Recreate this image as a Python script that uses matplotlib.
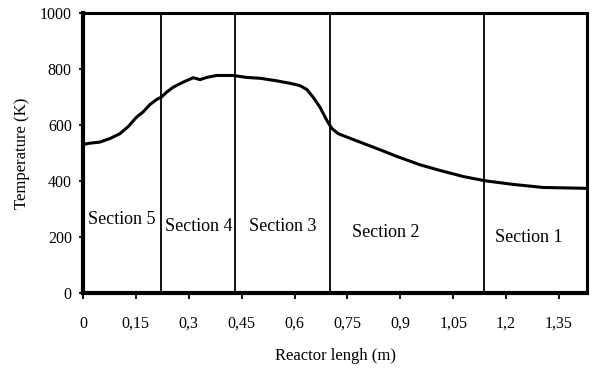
import matplotlib.pyplot as plt

plt.rcParams['font.family'] = ['Liberation Serif', 'DejaVu Serif']

# temperature profile along the reactor
length = [0, 0.019, 0.048, 0.077, 0.105, 0.129, 0.152, 0.171, 0.190, 0.209,
          0.223, 0.237, 0.256, 0.284, 0.313, 0.332, 0.351, 0.379, 0.426, 0.464,
          0.502, 0.549, 0.587, 0.615, 0.635, 0.653, 0.672, 0.691, 0.705, 0.724,
          0.767, 0.842, 0.890, 0.956, 1.012, 1.079, 1.140, 1.220, 1.305, 1.429]
temp = [532, 536, 540, 553, 570, 596, 629, 648, 674, 692,
        701, 718, 736, 754, 770, 763, 771, 778, 778, 771,
        768, 759, 750, 742, 728, 700, 665, 619, 590, 570,
        549, 513, 489, 459, 439, 417, 402, 389, 378, 375]

bounds = [0.221, 0.431, 0.70, 1.137]
sec_names = ["Section 5", "Section 4", "Section 3", "Section 2", "Section 1"]
sec_x = [0.111, 0.329, 0.567, 0.859, 1.265]
sec_y = [262, 237, 237, 219, 201]

xticks = [0, 0.15, 0.3, 0.45, 0.6, 0.75, 0.9, 1.05, 1.2, 1.35]
xtick_labels = ["0", "0,15", "0,3", "0,45", "0,6", "0,75", "0,9", "1,05", "1,2", "1,35"]
yticks = [0, 200, 400, 600, 800, 1000]

fig = plt.figure(figsize=(5.92, 3.69), dpi=100)
ax = fig.add_axes([0.140, 0.205, 0.852, 0.759])

ax.plot(length, temp, color='black', lw=2.2)
for b in bounds:
    ax.axvline(b, color='black', lw=1.3)
for name, x, y in zip(sec_names, sec_x, sec_y):
    ax.text(x, y, name, ha='center', va='center', fontsize=13)

ax.set_xlim(0, 1.43)
ax.set_ylim(0, 1000)
ax.set_xticks(xticks)
ax.set_xticklabels(xtick_labels, fontsize=11.5)
ax.set_yticks(yticks)
ax.set_yticklabels([str(v) for v in yticks], fontsize=11.5)
ax.tick_params(axis='x', direction='out', length=4, width=1.3, pad=12)
ax.tick_params(axis='y', direction='out', length=3, width=1.3, pad=5)

ax.spines['left'].set_linewidth(3)
ax.spines['bottom'].set_linewidth(3)
ax.spines['top'].set_linewidth(2.2)
ax.spines['right'].set_linewidth(2.2)

ax.set_xlabel("Reactor lengh (m)", fontsize=12, labelpad=12)
ax.set_ylabel("Temperature (K)", fontsize=12, labelpad=7)

fig.savefig("out.png", dpi=100)
